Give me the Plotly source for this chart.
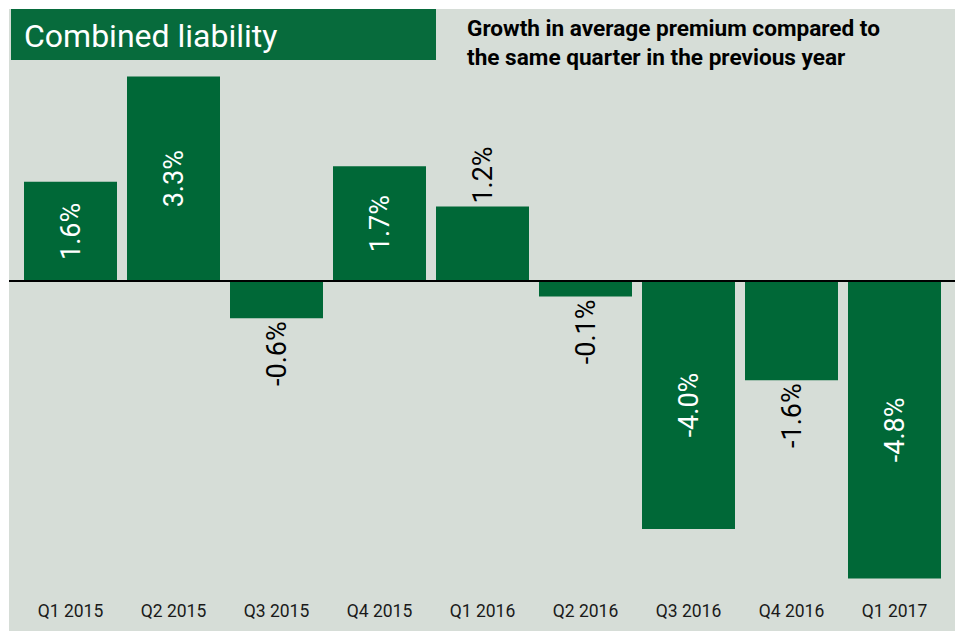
import plotly.graph_objects as go

categories = ["Q1 2015", "Q2 2015", "Q3 2015", "Q4 2015", "Q1 2016",
              "Q2 2016", "Q3 2016", "Q4 2016", "Q1 2017"]
# bar heights as drawn in the picture (percent)
bar_values = [1.6, 3.3, -0.6, 1.85, 1.2, -0.25, -4.0, -1.6, -4.8]
# printed labels
bar_labels = ["1.6%", "3.3%", "-0.6%", "1.7%", "1.2%", "-0.1%", "-4.0%", "-1.6%", "-4.8%"]
label_inside = [True, True, False, True, False, False, True, False, True]

GREEN = "#006837"
BG = "#d6ddd7"
W, H = 955, 623          # page body adds an 8px margin
MB = 33
PH = H - MB
PX_PER_UNIT = 62.0
ZERO_Y = 273.0
X0 = 62.5
STEP = 103.0

textpos = ["inside" if i else "outside" for i in label_inside]
textcol = ["white" if i else "black" for i in label_inside]

fig = go.Figure()
fig.add_trace(go.Bar(
    x=list(range(len(categories))),
    y=bar_values,
    text=bar_labels,
    textposition=textpos,
    textangle=-90,
    insidetextanchor="middle",
    constraintext="none",
    cliponaxis=False,
    textfont=dict(color=textcol, size=27, family="Roboto"),
    marker=dict(color=GREEN, line=dict(width=0)),
    hoverinfo="skip",
))

xr0 = -X0 / STEP
xr1 = xr0 + W / STEP
yr1 = ZERO_Y / PX_PER_UNIT
yr0 = -(PH - ZERO_Y) / PX_PER_UNIT

fig.update_layout(
    width=W, height=H,
    margin=dict(l=0, r=0, t=0, b=MB, pad=0),
    paper_bgcolor="white",
    plot_bgcolor="rgba(0,0,0,0)",
    bargap=1 - 93 / 103,
    showlegend=False,
    xaxis=dict(range=[xr0, xr1], tickmode="array",
               tickvals=list(range(len(categories))), ticktext=categories,
               showgrid=False, zeroline=False, showline=False, ticks="",
               tickfont=dict(family="Roboto", size=17.5, color="#1a1a1a"),
               fixedrange=True),
    yaxis=dict(range=[yr0, yr1], showgrid=False, zeroline=False,
               showticklabels=False, ticks="", showline=False, fixedrange=True),
    shapes=[
        dict(type="rect", xref="paper", yref="paper", layer="below",
             x0=1 / W, x1=1.0, y0=-MB / PH, y1=(PH - 1) / PH,
             fillcolor=BG, line=dict(width=0)),
        dict(type="rect", xref="paper", yref="paper", layer="above",
             x0=3 / W, x1=428 / W, y0=(PH - 52) / PH, y1=(PH - 1) / PH,
             fillcolor="#076b3c", line=dict(width=0)),
        dict(type="line", xref="paper", yref="y", layer="above",
             x0=1 / W, x1=949 / W, y0=0, y1=0,
             line=dict(color="black", width=2)),
    ],
    annotations=[
        dict(text="Combined liability", xref="paper", yref="paper",
             x=14 / W, y=(PH - 28) / PH, xanchor="left", yanchor="middle",
             showarrow=False, font=dict(family="Roboto", size=32, color="white")),
        dict(text="<b>Growth in average premium compared to<br>the same quarter in the previous year</b>",
             xref="paper", yref="paper", x=457 / W, y=(PH - 5) / PH,
             xanchor="left", yanchor="top", align="left", showarrow=False,
             font=dict(family="Roboto", size=22.6, color="black")),
    ],
)

fig.write_html("out.html")
